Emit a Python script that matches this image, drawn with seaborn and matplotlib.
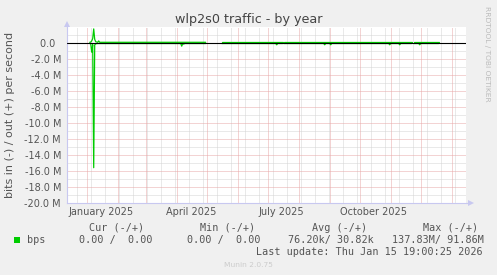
import matplotlib
matplotlib.use("Agg")
import matplotlib.pyplot as plt
from matplotlib.patches import Rectangle
import pandas as pd
import seaborn as sns

# ---------------- data (values in M bits/s) ----------------
dates = [
    "2025-01-04", "2025-01-05", "2025-01-06", "2025-01-07", "2025-01-08", "2025-01-09",
    "2025-01-10", "2025-01-12", "2025-01-13", "2025-01-14", "2025-04-05", "2025-04-06",
    "2025-04-07", "2025-04-08", "2025-04-09", "2025-04-30",
    "2025-05-16", "2025-07-09", "2025-07-10", "2025-07-11", "2025-07-16",
    "2025-07-17", "2025-08-26", "2025-08-27", "2025-08-28", "2025-09-01", "2025-09-02",
    "2025-09-03", "2025-10-30", "2025-10-31", "2025-11-01", "2025-11-09", "2025-11-10",
    "2025-11-11", "2025-11-22",
    "2025-11-24", "2025-11-29", "2025-11-30", "2025-12-01", "2025-12-19",
]
bps_in = [
    -0.12, -0.15, -1.2, -0.25, -15.6, -0.3,
    -0.15, -0.12, -0.12, -0.12, -0.12, -0.45,
    -0.15, -0.2, -0.12, -0.12,
    -0.12, -0.12, -0.28, -0.12, -0.12,
    -0.12, -0.12, -0.28, -0.12, -0.12, -0.28,
    -0.12, -0.12, -0.28, -0.12, -0.12, -0.28,
    -0.12, -0.12,
    -0.12, -0.12, -0.28, -0.12, -0.12,
]
bps_out = [
    0.03, 0.05, 0.2, 0.5, 1.7, 0.4,
    0.1, 0.03, 0.2, 0.03, 0.03, 0.03,
    0.03, 0.03, 0.03, 0.03,
    0.03, 0.03, 0.03, 0.03, 0.03,
    0.03, 0.03, 0.03, 0.03, 0.03, 0.03,
    0.03, 0.03, 0.03, 0.03, 0.03, 0.03,
    0.03, 0.03,
    0.03, 0.03, 0.03, 0.03, 0.03,
]
segment = [1] * 16 + [2] * 5 + [3] * 14 + [4] * 5

y_ticks = [0, -2, -4, -6, -8, -10, -12, -14, -16, -18, -20]
y_tick_labels = ["0.0  ", "-2.0 M", "-4.0 M", "-6.0 M", "-8.0 M", "-10.0 M",
                 "-12.0 M", "-14.0 M", "-16.0 M", "-18.0 M", "-20.0 M"]
x_label_dates = ["2025-01-15", "2025-04-15", "2025-07-15", "2025-10-15"]
x_labels = ["January 2025", "April 2025", "July 2025", "October 2025"]

legend_headers = ["Cur (-/+)", "Min (-/+)", "Avg (-/+)", "Max (-/+)"]
legend_values = ["0.00 /  0.00", "0.00 /  0.00", "76.20k/ 30.82k", "137.83M/ 91.86M"]
last_update = "Last update: Thu Jan 15 19:00:25 2026"

# ---------------- figure ----------------
sns.set_style("white")
plt.rcParams["font.family"] = ["DejaVu Sans"]

W, H = 497, 275
fig = plt.figure(figsize=(W / 100, H / 100), dpi=100, facecolor="#f0f0f0")
ax = fig.add_axes([67 / W, 72 / H, 399 / W, 176.5 / H])
ax.set_facecolor("white")

def fx(x):
    return x / W

def fy(y):
    return 1 - y / H

df = pd.DataFrame({"date": pd.to_datetime(dates), "in": bps_in,
                   "out": bps_out, "segment": segment})

xmin = pd.Timestamp("2024-12-12 07:00")
xmax = pd.Timestamp("2026-01-15 07:00")

# grid
minor_x = pd.date_range("2024-12-22", "2026-01-10", freq="14D")
major_x = pd.date_range("2025-01-01", "2026-01-01", freq="MS")
ax.vlines(minor_x, 0, 1, transform=ax.get_xaxis_transform(), colors="#d4d4d4",
          linewidth=0.72, linestyles=(0, (1, 1)), zorder=1)
ax.vlines(major_x, 0, 1, transform=ax.get_xaxis_transform(), colors="#e8a8a8",
          linewidth=0.72, linestyles=(0, (1, 1)), zorder=1.2)
ax.hlines([1, -1, -3, -5, -7, -9, -11, -13, -15, -17, -19], 0, 1,
          transform=ax.get_yaxis_transform(), colors="#d4d4d4",
          linewidth=0.72, linestyles=(0, (1, 1)), zorder=1)
ax.hlines([2] + y_ticks, 0, 1, transform=ax.get_yaxis_transform(), colors="#e8a8a8",
          linewidth=0.72, linestyles=(0, (1, 1)), zorder=1.2)

sns.lineplot(data=df, x="date", y="in", units="segment", estimator=None,
             color="#00cc00", linewidth=0.9, ax=ax, zorder=3)
sns.lineplot(data=df, x="date", y="out", units="segment", estimator=None,
             color="#00cc00", linewidth=0.9, ax=ax, zorder=3)
ax.axhline(0, color="black", linewidth=0.8, zorder=5)

ax.set_xlim(xmin, xmax)
ax.set_ylim(-20, 2)
ax.set_yticks(y_ticks)
ax.set_yticklabels(y_tick_labels)
ax.set_xticks(pd.to_datetime(x_label_dates))
ax.set_xticklabels(x_labels)
ax.tick_params(axis="both", length=0, labelsize=7, labelcolor="#555555")
ax.tick_params(axis="y", pad=4.3)
ax.tick_params(axis="x", pad=3)
ax.set_xlabel("")
ax.set_ylabel("bits in (-) / out (+) per second", fontsize=8, color="#555555")
ax.yaxis.label.set_va("center")
ax.yaxis.set_label_coords((10.5 - 67) / 399, 0.5)
ax.grid(False)

for s in ["top", "right"]:
    ax.spines[s].set_visible(False)
for s in ["left", "bottom"]:
    ax.spines[s].set_color("#c8c8f0")
    ax.spines[s].set_linewidth(0.8)
ax.plot([1, 1.01], [0, 0], transform=ax.transAxes, color="#c8c8f0", lw=0.8, clip_on=False)
ax.plot([0, 0], [1, 1.02], transform=ax.transAxes, color="#c8c8f0", lw=0.8, clip_on=False)
ax.plot([1.0115], [0], marker=">", markersize=4, color="#c8c8f0",
        transform=ax.transAxes, clip_on=False, markeredgewidth=0)
ax.plot([0], [(203 - 23.5) / 176.5], marker="^", markersize=4, color="#c8c8f0",
        transform=ax.transAxes, clip_on=False, markeredgewidth=0)

# title and side texts
fig.text(fx(248.5), fy(23), "wlp2s0 traffic - by year", ha="center", va="baseline",
         fontsize=9.2, color="#444444")
fig.text(fx(487), fy(53.5), "RRDTOOL / TOBI OETIKER", rotation=270, ha="center",
         va="center", fontsize=5.4, color="#bbbbbb")
fig.text(fx(248), fy(267), "Munin 2.0.75", ha="center", va="baseline",
         fontsize=5.4, color="#cccccc")

# legend block
mono = dict(family="DejaVu Sans Mono", fontsize=7.3, color="#555555", va="baseline")
for hx, txt in zip([89.3, 200.3, 311.7, 422.7], legend_headers):
    fig.text(fx(hx), fy(231), txt, ha="left", **mono)
fig.patches.append(Rectangle((fx(14), fy(243)), 6 / W, 6 / H, transform=fig.transFigure,
                             facecolor="#00cc00", edgecolor="none"))
fig.text(fx(26.7), fy(243), "bps", ha="left", **mono)
for vx, txt in zip([78.7, 186.7, 288.3, 391.7], legend_values):
    fig.text(fx(vx), fy(243), txt, ha="left", **mono)
fig.text(fx(483), fy(255), last_update, ha="right", **mono)

fig.savefig("out.png", dpi=100, facecolor=fig.get_facecolor())
